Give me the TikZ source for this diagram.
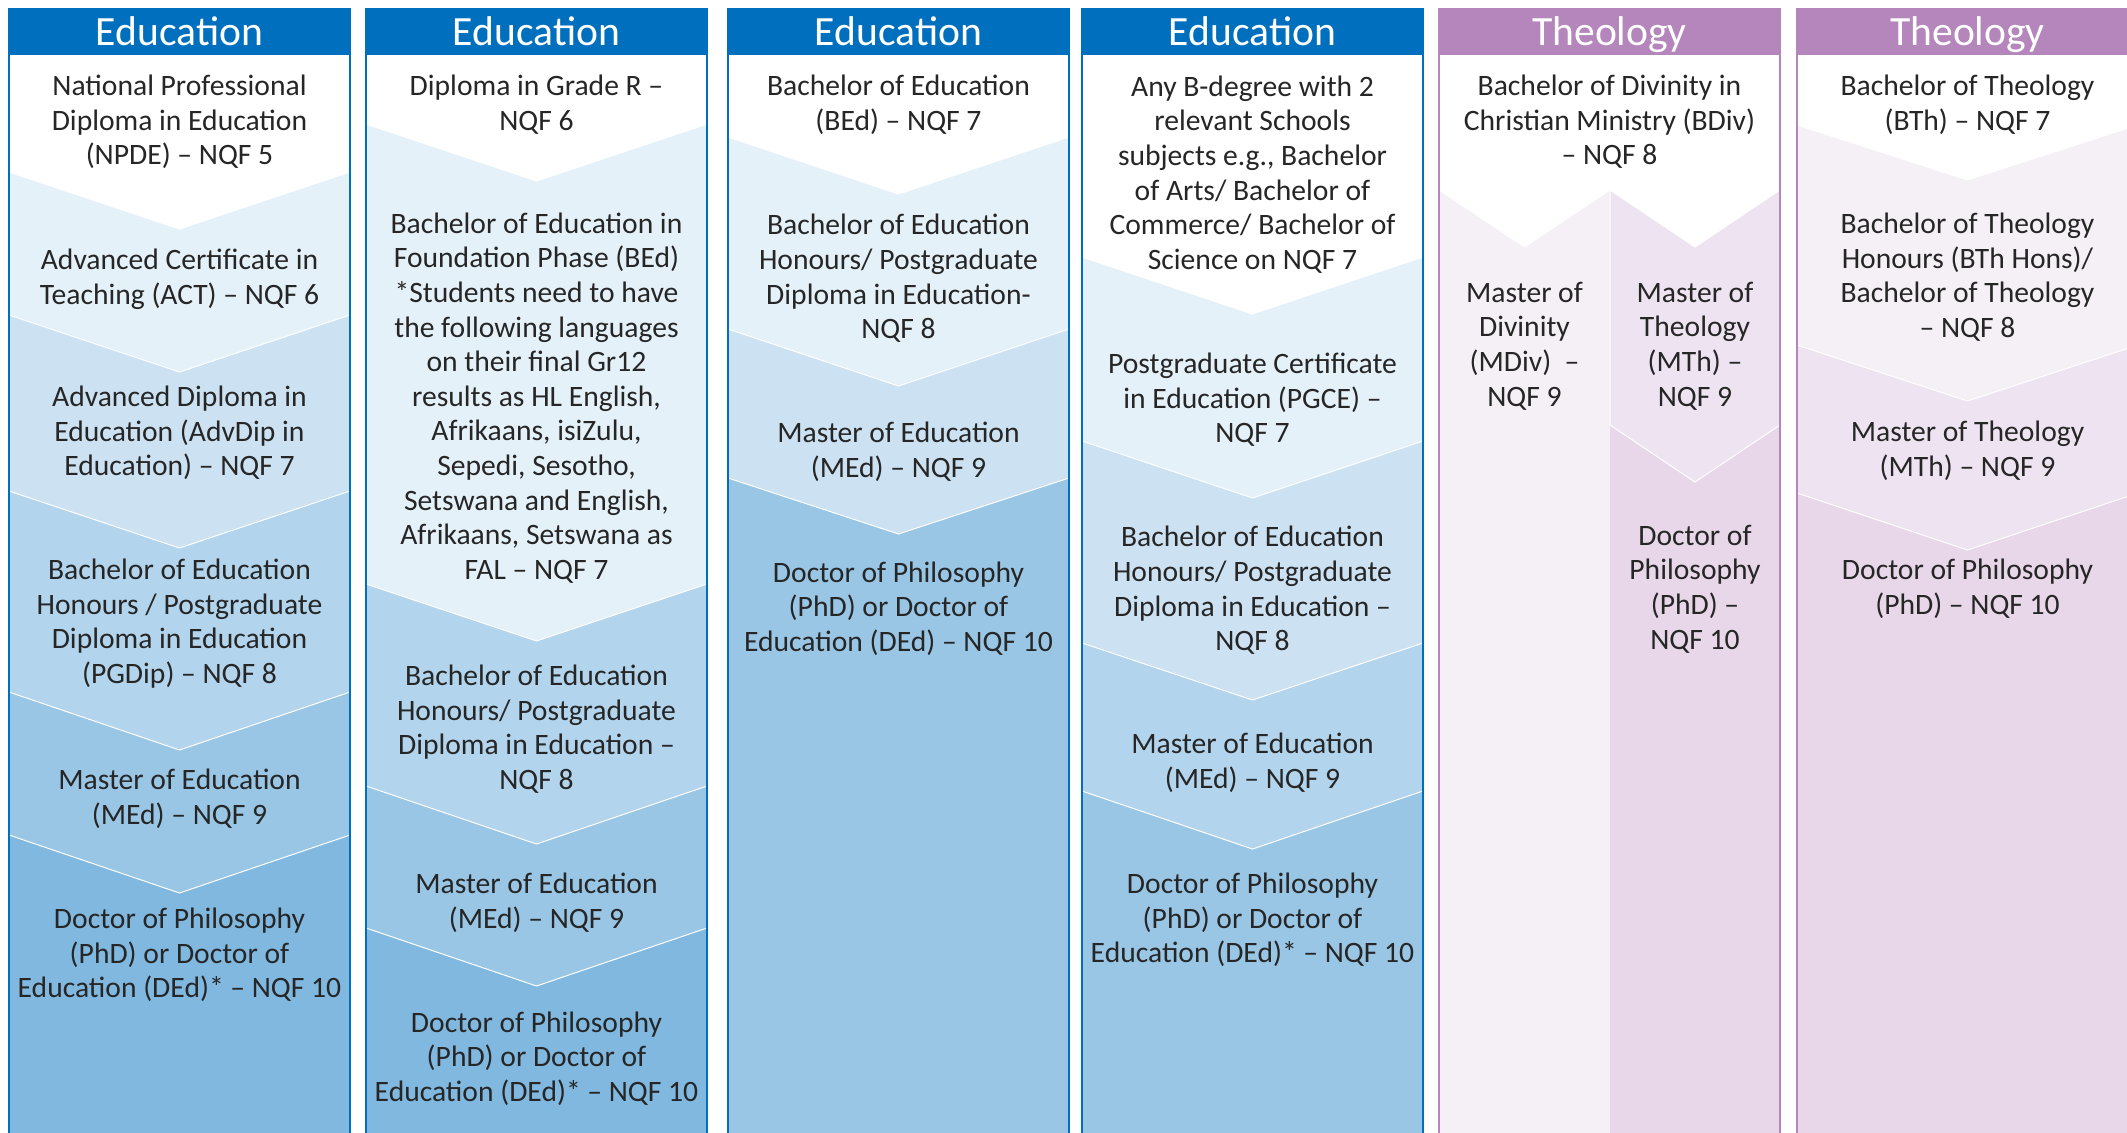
\documentclass[tikz,border=0pt]{standalone}
\usepackage{fontspec}
\setmainfont{Carlito}
\definecolor{eduBlue}{RGB}{0,112,190}
\definecolor{theoPurple}{RGB}{181,134,188}
\newcommand{\chevband}[5]{\fill[#5,draw=white,line width=0.5pt] (#1,55) -- (#2,55) -- (#2,#3) -- ({(#1+#2)/2},#4) -- (#1,#3) -- cycle;}
\tikzset{
	txt/.style={align=center,inner sep=0pt,text=black!85,font=\fontsize{14.8}{17.3}\selectfont},
	head/.style={anchor=base,inner sep=0pt,text=white,font=\fontsize{20.8}{24}\selectfont},
	rim/.style={line width=1pt}
}
\begin{document}
\begin{tikzpicture}[x=0.5pt,y=-0.5pt]
		\useasboundingbox (0,0) rectangle (2127,1132);
		\clip (0,0) rectangle (2127,1132);
		
		\fill[eduBlue!50] (9,55) rectangle (350,1140);
		\chevband{9}{350}{835}{893}{eduBlue!40}
		\chevband{9}{350}{692}{750}{eduBlue!30}
		\chevband{9}{350}{491}{548}{eduBlue!20}
		\chevband{9}{350}{315}{372}{eduBlue!10}
		\chevband{9}{350}{172}{229}{white}
		
		\fill[eduBlue!50] (366,55) rectangle (707,1140);
		\chevband{366}{707}{928}{986}{eduBlue!40}
		\chevband{366}{707}{786}{844}{eduBlue!30}
		\chevband{366}{707}{584}{641}{eduBlue!10}
		\chevband{366}{707}{124}{181}{white}
		
		\fill[eduBlue!40] (728,55) rectangle (1069,1140);
		\chevband{728}{1069}{478}{534}{eduBlue!20}
		\chevband{728}{1069}{329}{386}{eduBlue!10}
		\chevband{728}{1069}{137}{194}{white}
		
		\fill[eduBlue!40] (1082,55) rectangle (1423,1140);
		\chevband{1082}{1423}{791}{849}{eduBlue!30}
		\chevband{1082}{1423}{643}{700}{eduBlue!20}
		\chevband{1082}{1423}{441}{498}{eduBlue!10}
		\chevband{1082}{1423}{257}{314}{white}
		
		\fill[theoPurple!13] (1439,55) rectangle (1610,1140);
		\fill[theoPurple!33] (1610,55) rectangle (1780,1140);
		\chevband{1610}{1780}{425}{482}{theoPurple!23}
		\fill[white,draw=white,line width=0.5pt] (1439,55) -- (1780,55) -- (1780,190) -- (1695,247) -- (1610,190) -- (1524.5,247) -- (1439,190) -- cycle;
		
		\fill[theoPurple!33] (1797,55) rectangle (2138,1140);
		\chevband{1797}{2138}{493}{550}{theoPurple!23}
		\chevband{1797}{2138}{345}{401}{theoPurple!13}
		\chevband{1797}{2138}{125}{180}{white}
		
		\fill[eduBlue] (9,9) rectangle (350,55);
		\fill[eduBlue] (366,9) rectangle (707,55);
		\fill[eduBlue] (728,9) rectangle (1069,55);
		\fill[eduBlue] (1082,9) rectangle (1423,55);
		\fill[theoPurple] (1439,9) rectangle (1780,55);
		\fill[theoPurple] (1797,9) rectangle (2138,55);
		
		\draw[rim,eduBlue] (9,9) rectangle (350,1140);
		\draw[rim,eduBlue] (366,9) rectangle (707,1140);
		\draw[rim,eduBlue] (728,9) rectangle (1069,1140);
		\draw[rim,eduBlue] (1082,9) rectangle (1423,1140);
		\draw[rim,theoPurple] (1439,9) rectangle (1780,1140);
		\draw[rim,theoPurple] (1797,9) rectangle (2138,1140);
		
		\node[head] (headA) at (179.5,45) {Education};
		\node[head] (headB) at (536.5,45) {Education};
		\node[head] (headC) at (898.5,45) {Education};
		\node[head] (headD) at (1252.5,45) {Education};
		\node[head] (headE) at (1609.5,45) {Theology};
		\node[head] (headF) at (1967.5,45) {Theology};
		
		\node[txt] (npde) at (179.5,122) {National Professional\\Diploma in Education\\(NPDE) – NQF 5};
		\node[txt] (act) at (179.5,279) {Advanced Certificate in\\Teaching (ACT) – NQF 6};
		\node[txt] (advdip) at (179.5,433) {Advanced Diploma in\\Education (AdvDip in\\Education) – NQF 7};
		\node[txt] (pgdip) at (179.5,623.5) {Bachelor of Education\\Honours / Postgraduate\\Diploma in Education\\(PGDip) – NQF 8};
		\node[txt] (medA) at (179.5,799) {Master of Education\\(MEd) – NQF 9};
		\node[txt] (phdA) at (179.5,955) {Doctor of Philosophy\\(PhD) or Doctor of\\Education (DEd)* – NQF 10};
		
		\node[txt] (grader) at (536.5,104.5) {Diploma in Grade R –\\NQF 6};
		\node[txt] (bedfp) at (536.5,398) {Bachelor of Education in\\Foundation Phase (BEd)\\*Students need to have\\the following languages\\on their final Gr12\\results as HL English,\\Afrikaans, isiZulu,\\Sepedi, Sesotho,\\Setswana and English,\\Afrikaans, Setswana as\\FAL – NQF 7};
		\node[txt] (honsB) at (536.5,729) {Bachelor of Education\\Honours/ Postgraduate\\Diploma in Education –\\NQF 8};
		\node[txt] (medB) at (536.5,902.5) {Master of Education\\(MEd) – NQF 9};
		\node[txt] (phdB) at (536.5,1058.5) {Doctor of Philosophy\\(PhD) or Doctor of\\Education (DEd)* – NQF 10};
		
		\node[txt] (bed) at (898.5,105) {Bachelor of Education\\(BEd) – NQF 7};
		\node[txt] (honsC) at (898.5,278.5) {Bachelor of Education\\Honours/ Postgraduate\\Diploma in Education-\\NQF 8};
		\node[txt] (medC) at (898.5,451.5) {Master of Education\\(MEd) – NQF 9};
		\node[txt] (phdC) at (898.5,608.5) {Doctor of Philosophy\\(PhD) or Doctor of\\Education (DEd) – NQF 10};
		
		\node[txt] (bdeg) at (1252.5,174.5) {Any B-degree with 2\\relevant Schools\\subjects e.g., Bachelor\\of Arts/ Bachelor of\\Commerce/ Bachelor of\\Science on NQF 7};
		\node[txt] (pgce) at (1252.5,400) {Postgraduate Certificate\\in Education (PGCE) –\\NQF 7};
		\node[txt] (honsD) at (1252.5,590.5) {Bachelor of Education\\Honours/ Postgraduate\\Diploma in Education –\\NQF 8};
		\node[txt] (medD) at (1252.5,763) {Master of Education\\(MEd) – NQF 9};
		\node[txt] (phdD) at (1252.5,920) {Doctor of Philosophy\\(PhD) or Doctor of\\Education (DEd)* – NQF 10};
		
		\node[txt] (bdiv) at (1609.5,122) {Bachelor of Divinity in\\Christian Ministry (BDiv)\\– NQF 8};
		\node[txt] (mdiv) at (1524.5,346) {Master of\\Divinity\\(MDiv)~ –\\NQF 9};
		\node[txt] (mthE) at (1695,346) {Master of\\Theology\\(MTh) –\\NQF 9};
		\node[txt] (phdE) at (1695,589) {Doctor of\\Philosophy\\(PhD) –\\NQF 10};
		
		\node[txt] (bth) at (1967.5,105) {Bachelor of Theology\\(BTh) – NQF 7};
		\node[txt] (bthhons) at (1967.5,277) {Bachelor of Theology\\Honours (BTh Hons)/\\Bachelor of Theology\\– NQF 8};
		\node[txt] (mthF) at (1967.5,451) {Master of Theology\\(MTh) – NQF 9};
		\node[txt] (phdF) at (1967.5,589) {Doctor of Philosophy\\(PhD) – NQF 10};
	\end{tikzpicture}
\end{document}
